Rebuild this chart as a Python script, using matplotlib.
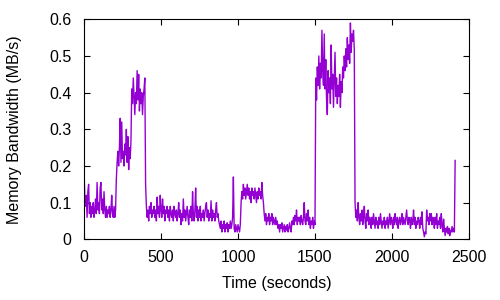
import matplotlib
matplotlib.use('Agg')
import matplotlib.pyplot as plt

plt.rcParams['font.family'] = ['Liberation Sans', 'DejaVu Sans']

# memory bandwidth samples, one every 5 s
bw = [
    0.19, 0.12, 0.09, 0.12, 0.06, 0.13, 0.15, 0.07, 0.10, 0.06,
    0.09, 0.07, 0.10, 0.06, 0.08, 0.11, 0.07, 0.155, 0.08, 0.10,
    0.07, 0.14, 0.155, 0.08, 0.11, 0.07, 0.13, 0.08, 0.06, 0.09,
    0.06, 0.08, 0.07, 0.09, 0.06, 0.08, 0.12, 0.07, 0.06, 0.09,
    0.06, 0.08, 0.165, 0.21, 0.24, 0.20, 0.25, 0.33, 0.21, 0.32,
    0.22, 0.24, 0.20, 0.26, 0.23, 0.30, 0.21, 0.28, 0.19, 0.25,
    0.22, 0.27, 0.41, 0.37, 0.44, 0.39, 0.34, 0.40, 0.37, 0.46,
    0.38, 0.45, 0.35, 0.41, 0.37, 0.40, 0.34, 0.39, 0.41, 0.44,
    0.15, 0.09, 0.06, 0.08, 0.05, 0.09, 0.07, 0.10, 0.06, 0.08,
    0.07, 0.09, 0.06, 0.08, 0.05, 0.115, 0.07, 0.09, 0.06, 0.12,
    0.08, 0.06, 0.11, 0.07, 0.09, 0.05, 0.08, 0.07, 0.09, 0.06,
    0.08, 0.05, 0.09, 0.07, 0.06, 0.08, 0.05, 0.09, 0.07, 0.06,
    0.08, 0.05, 0.07, 0.10, 0.06, 0.08, 0.04, 0.07, 0.05, 0.11,
    0.06, 0.08, 0.05, 0.07, 0.09, 0.06, 0.04, 0.08, 0.06, 0.09,
    0.05, 0.13, 0.07, 0.05, 0.08, 0.14, 0.06, 0.09, 0.05, 0.08,
    0.06, 0.09, 0.05, 0.07, 0.06, 0.08, 0.05, 0.07, 0.09, 0.10,
    0.06, 0.08, 0.05, 0.07, 0.06, 0.105, 0.05, 0.08, 0.06, 0.07,
    0.05, 0.08, 0.10, 0.06, 0.07, 0.05, 0.04, 0.03, 0.05, 0.02,
    0.04, 0.03, 0.05, 0.02, 0.04, 0.03, 0.045, 0.02, 0.04, 0.03,
    0.05, 0.03, 0.04, 0.06, 0.17, 0.03, 0.02, 0.04, 0.03, 0.02,
    0.04, 0.03, 0.02, 0.04, 0.10, 0.13, 0.11, 0.15, 0.12, 0.14,
    0.11, 0.13, 0.15, 0.12, 0.14, 0.11, 0.13, 0.10, 0.14, 0.12,
    0.13, 0.11, 0.14, 0.12, 0.10, 0.13, 0.11, 0.14, 0.12, 0.13,
    0.11, 0.155, 0.12, 0.10, 0.07, 0.05, 0.07, 0.04, 0.06, 0.05,
    0.07, 0.04, 0.06, 0.05, 0.07, 0.04, 0.06, 0.05, 0.04, 0.06,
    0.04, 0.05, 0.03, 0.04, 0.02, 0.04, 0.03, 0.045, 0.02, 0.03,
    0.04, 0.02, 0.035, 0.025, 0.04, 0.02, 0.03, 0.045, 0.03, 0.02,
    0.05, 0.04, 0.06, 0.04, 0.065, 0.05, 0.08, 0.04, 0.06, 0.05,
    0.06, 0.04, 0.065, 0.05, 0.04, 0.06, 0.10, 0.05, 0.04, 0.07,
    0.05, 0.08, 0.04, 0.06, 0.03, 0.05, 0.04, 0.06, 0.03, 0.05,
    0.04, 0.44, 0.38, 0.47, 0.42, 0.50, 0.41, 0.48, 0.44, 0.57,
    0.46, 0.42, 0.56, 0.41, 0.49, 0.38, 0.34, 0.46, 0.40, 0.44,
    0.37, 0.53, 0.41, 0.45, 0.36, 0.43, 0.51, 0.39, 0.44, 0.37,
    0.42, 0.39, 0.45, 0.36, 0.43, 0.40, 0.47, 0.44, 0.50, 0.46,
    0.52, 0.47, 0.55, 0.49, 0.53, 0.48, 0.59, 0.51, 0.56, 0.54,
    0.57, 0.52, 0.10, 0.06, 0.08, 0.05, 0.10, 0.06, 0.04, 0.07,
    0.05, 0.08, 0.04, 0.06, 0.09, 0.05, 0.03, 0.07, 0.05, 0.08,
    0.04, 0.06, 0.05, 0.03, 0.06, 0.04, 0.07, 0.05, 0.03, 0.06,
    0.04, 0.05, 0.03, 0.06, 0.04, 0.07, 0.05, 0.03, 0.05, 0.04,
    0.06, 0.03, 0.05, 0.04, 0.06, 0.03, 0.05, 0.07, 0.04, 0.06,
    0.05, 0.03, 0.06, 0.04, 0.07, 0.05, 0.04, 0.06, 0.03, 0.05,
    0.06, 0.04, 0.05, 0.07, 0.04, 0.06, 0.05, 0.04, 0.06, 0.08,
    0.05, 0.04, 0.06, 0.05, 0.03, 0.06, 0.04, 0.05, 0.08, 0.04,
    0.06, 0.03, 0.05, 0.04, 0.06, 0.05, 0.03, 0.06, 0.04, 0.075,
    0.03, 0.02, 0.007, 0.02, 0.015, 0.08, 0.05, 0.06, 0.04, 0.07,
    0.05, 0.07, 0.04, 0.06, 0.05, 0.03, 0.06, 0.04, 0.07, 0.03,
    0.05, 0.04, 0.06, 0.03, 0.07, 0.04, 0.02, 0.055, 0.03, 0.01,
    0.03, 0.02, 0.035, 0.015, 0.03, 0.01, 0.025, 0.02, 0.035, 0.02,
    0.03, 0.02, 0.215,
]
t = [5 * i for i in range(len(bw))]

fig = plt.figure(figsize=(5, 3), dpi=100)
ax = fig.add_axes([0.168, 0.2023, 0.77, 0.7334])
ax.plot(t, bw, color='#9400d3', lw=1.0)

ax.set_xlim(0, 2500)
ax.set_ylim(0, 0.6)
ax.set_xticks([0, 500, 1000, 1500, 2000, 2500])
ax.set_yticks([0, 0.1, 0.2, 0.3, 0.4, 0.5, 0.6])
ax.set_yticklabels(['0', '0.1', '0.2', '0.3', '0.4', '0.5', '0.6'])
ax.tick_params(direction='in', top=True, right=True, labelsize=11.5, length=4)
ax.tick_params(axis='y', pad=9)
ax.tick_params(axis='x', pad=8)
ax.set_xlabel('Time (seconds)', fontsize=11.5)
ax.set_ylabel('Memory Bandwidth (MB/s)', fontsize=11.5)
ax.xaxis.set_label_coords(0.5, -0.168)
ax.yaxis.set_label_coords(-0.16, 0.5)

fig.savefig('out.png', dpi=100)
